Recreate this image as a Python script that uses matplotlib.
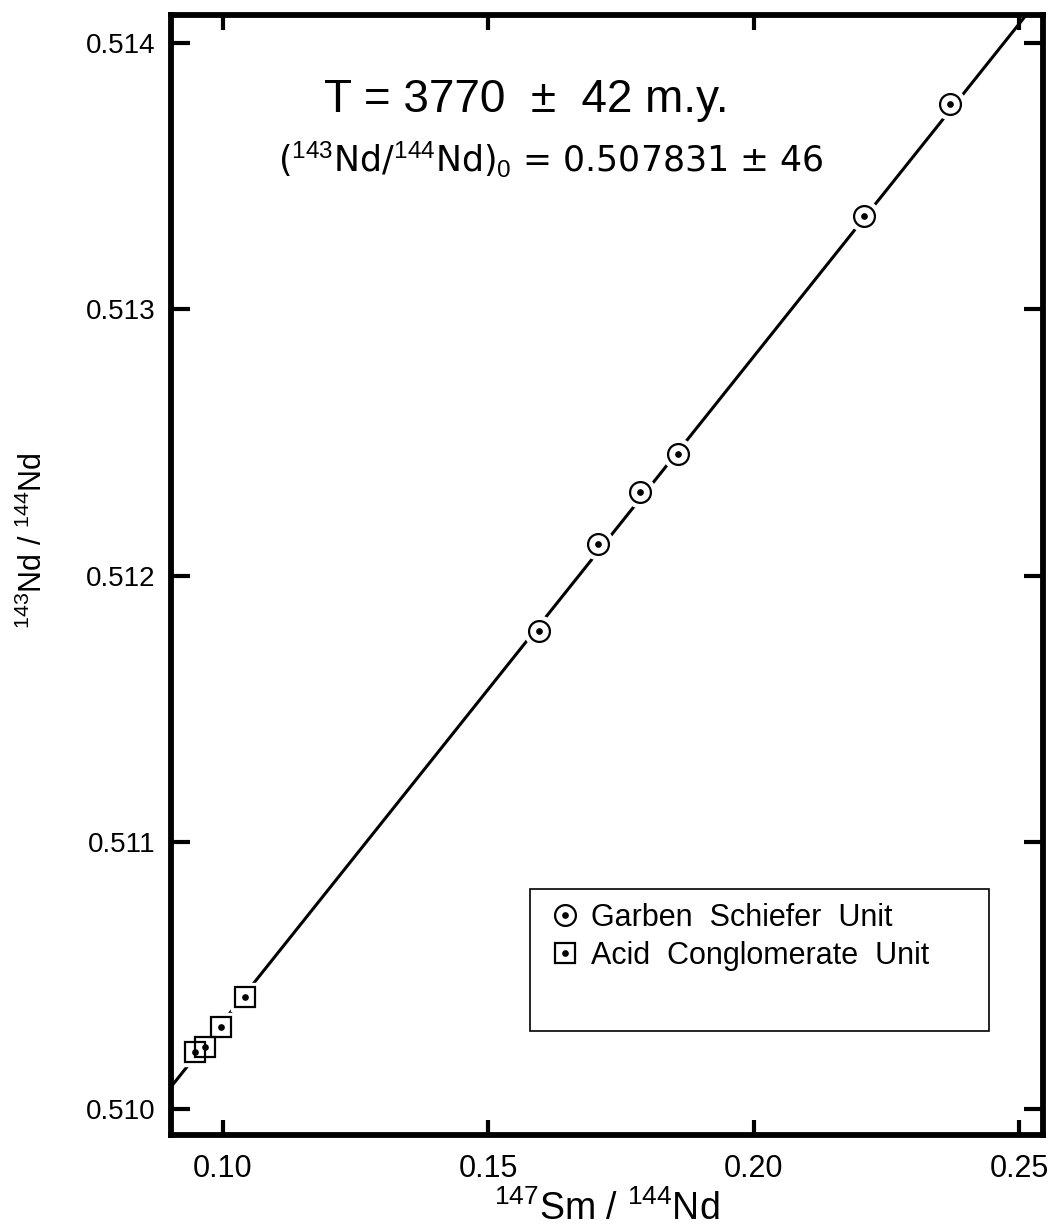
import matplotlib
matplotlib.use('Agg')
import matplotlib.pyplot as plt
from matplotlib.lines import Line2D
from matplotlib.patches import Rectangle
import numpy as np

# Garben Schiefer Unit (circles)
gs_sm_nd = [0.1596, 0.1707, 0.1786, 0.1858, 0.2208, 0.2370]
gs_nd_nd = [0.511793, 0.512120, 0.512316, 0.512459, 0.513350, 0.513771]

# Acid Conglomerate Unit (squares)
ac_sm_nd = [0.0947, 0.0966, 0.0996, 0.1041]
ac_nd_nd = [0.510215, 0.510234, 0.510309, 0.510420]

# isochron, as given in the annotation
age_my = 3770
age_err = 42
initial_ratio = 0.507831
initial_err = 46
decay_const = 6.54e-12  # 147Sm, per year

x_ticks = [0.10, 0.15, 0.20, 0.25]
x_tick_labels = ['0.10', '0.15', '0.20', '0.25']
y_ticks = [0.510, 0.511, 0.512, 0.513, 0.514]
y_tick_labels = ['0.510', '0.511', '0.512', '0.513', '0.514']
legend_labels = ['Garben  Schiefer  Unit', 'Acid  Conglomerate  Unit']

plt.rcParams['font.family'] = ['Liberation Sans', 'DejaVu Sans']
plt.rcParams['mathtext.fontset'] = 'custom'
plt.rcParams['mathtext.rm'] = 'Liberation Sans'
plt.rcParams['mathtext.it'] = 'Liberation Sans'
plt.rcParams['mathtext.bf'] = 'Liberation Sans:bold'

fig = plt.figure(figsize=(10.52, 12.32), dpi=100)
ax = fig.add_axes([0.1625, 0.0787, 0.8289, 0.9091])
ax.set_xlim(0.0902, 0.2545)
ax.set_ylim(0.509902, 0.514105)

# isochron line from age and initial ratio
slope = np.exp(decay_const * age_my * 1e6) - 1
ax.axline((0, initial_ratio), slope=slope, color='black', lw=2.2, zorder=1)

# white halos so the line breaks around each point
ax.plot(gs_sm_nd, gs_nd_nd, 'o', ms=22, color='white', zorder=2)
ax.plot(ac_sm_nd, ac_nd_nd, 's', ms=20, color='white', zorder=2)

ax.plot(gs_sm_nd, gs_nd_nd, 'o', ms=15, mfc='none', mec='black', mew=1.6, zorder=3)
ax.plot(ac_sm_nd, ac_nd_nd, 's', ms=13.7, mfc='none', mec='black', mew=1.6, zorder=3)
ax.plot(gs_sm_nd + ac_sm_nd, gs_nd_nd + ac_nd_nd, 'o', ms=3.8, color='black', zorder=4)

# frame and ticks
for side in ax.spines.values():
    side.set_linewidth(4.2)
ax.tick_params(direction='in', width=3, top=True, right=True)
ax.tick_params(axis='y', length=14, pad=11, labelsize=20)
ax.tick_params(axis='x', length=11, pad=14, labelsize=22)
ax.set_xticks(x_ticks)
ax.set_xticklabels(x_tick_labels)
ax.set_yticks(y_ticks)
ax.set_yticklabels(y_tick_labels)

ax.set_xlabel('$^{147}$Sm / $^{144}$Nd', fontsize=27, labelpad=4)
ax.set_ylabel('$^{143}$Nd / $^{144}$Nd', fontsize=22)
ax.yaxis.set_label_coords(-0.140, 0.531)

# annotation
ax.text(0.407, 0.9134, 'T = 3770  \u00b1  42 m.y.', transform=ax.transAxes,
        ha='center', va='baseline', fontsize=33)
ax.text(0.436, 0.8598, '($^{143}$Nd/$^{144}$Nd)$_0$ = 0.507831 \u00b1 46',
        transform=ax.transAxes, ha='center', va='baseline', fontsize=25,
        fontfamily='DejaVu Sans')

# legend: entries without frame, box drawn separately
circle = Line2D([], [], marker='o', ms=15, mfc='white', mec='black', mew=1.6, ls='none')
square = Line2D([], [], marker='s', ms=13.7, mfc='white', mec='black', mew=1.6, ls='none')
dot = Line2D([], [], marker='o', ms=3.8, color='black', ls='none')
ax.legend(handles=[(circle, dot), (square, dot)], labels=legend_labels,
          loc='upper left', bbox_to_anchor=(0.4308, 0.2076), frameon=False,
          fontsize=22, handlelength=1.2, handletextpad=0.25, labelspacing=0.28,
          borderpad=0, borderaxespad=0)
ax.add_patch(Rectangle((0.4117, 0.0929), 0.5263, 0.1268, transform=ax.transAxes,
                       fill=False, edgecolor='black', lw=1.2, zorder=5))

fig.savefig('out.png', dpi=100)
